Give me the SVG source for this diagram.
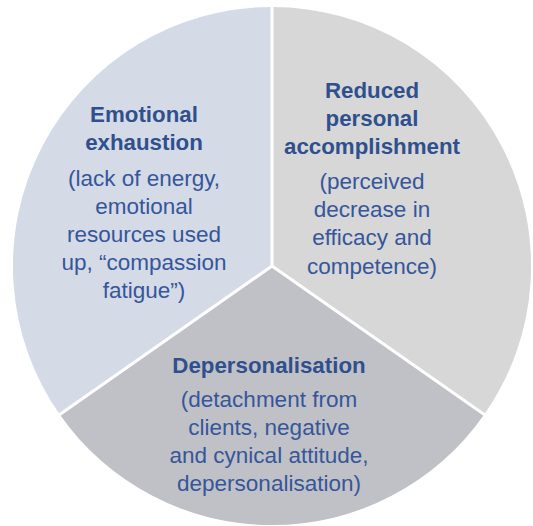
<svg xmlns="http://www.w3.org/2000/svg" width="533" height="526" viewBox="0 0 533 526">
  <style>
    .t { font-family: "Liberation Sans", Arial, Helvetica, sans-serif; fill: #2f508d; text-anchor: middle; }
    .h { font-size: 22.3px; font-weight: bold; }
    .b { font-size: 22.5px; font-weight: normal; fill: #36569a; }
    .sep { stroke: #ffffff; stroke-width: 3; fill: none; }
  </style>
  <rect width="533" height="526" fill="#ffffff"/>
  <g id="emotional-exhaustion">
    <path d="M272,266 L272,7 A259,259 0 0 0 59.8,414.6 Z" fill="#d4dae6"/>
    <text class="t h" x="144" y="121.5">Emotional</text>
    <text class="t h" x="144" y="149.5">exhaustion</text>
    <text class="t b" x="144" y="185.5">(lack of energy,</text>
    <text class="t b" x="144" y="213.5">emotional</text>
    <text class="t b" x="144" y="241.5">resources used</text>
    <text class="t b" x="144" y="270">up, “compassion</text>
    <text class="t b" x="144" y="298">fatigue”)</text>
  </g>
  <g id="reduced-personal-accomplishment">
    <path d="M272,266 L272,7 A259,259 0 0 1 484.2,414.6 Z" fill="#d7d7d7"/>
    <text class="t h" x="372" y="97.5">Reduced</text>
    <text class="t h" x="372" y="125.5">personal</text>
    <text class="t h" x="372" y="153.5">accomplishment</text>
    <text class="t b" x="372" y="189">(perceived</text>
    <text class="t b" x="372" y="217">decrease in</text>
    <text class="t b" x="372" y="245">efficacy and</text>
    <text class="t b" x="372" y="273.5">competence)</text>
  </g>
  <g id="depersonalisation">
    <path d="M272,266 L59.8,414.6 A259,259 0 0 0 484.2,414.6 Z" fill="#c0c1c6"/>
    <text class="t h" x="269" y="373">Depersonalisation</text>
    <text class="t b" x="269" y="407">(detachment from</text>
    <text class="t b" x="269" y="435">clients, negative</text>
    <text class="t b" x="269" y="463">and cynical attitude,</text>
    <text class="t b" x="269" y="491">depersonalisation)</text>
  </g>
  <g id="connectors">
    <line class="sep" x1="272" y1="266" x2="272" y2="5"/>
    <line class="sep" x1="272" y1="266" x2="58" y2="415.8"/>
    <line class="sep" x1="272" y1="266" x2="486" y2="415.8"/>
  </g>
</svg>
